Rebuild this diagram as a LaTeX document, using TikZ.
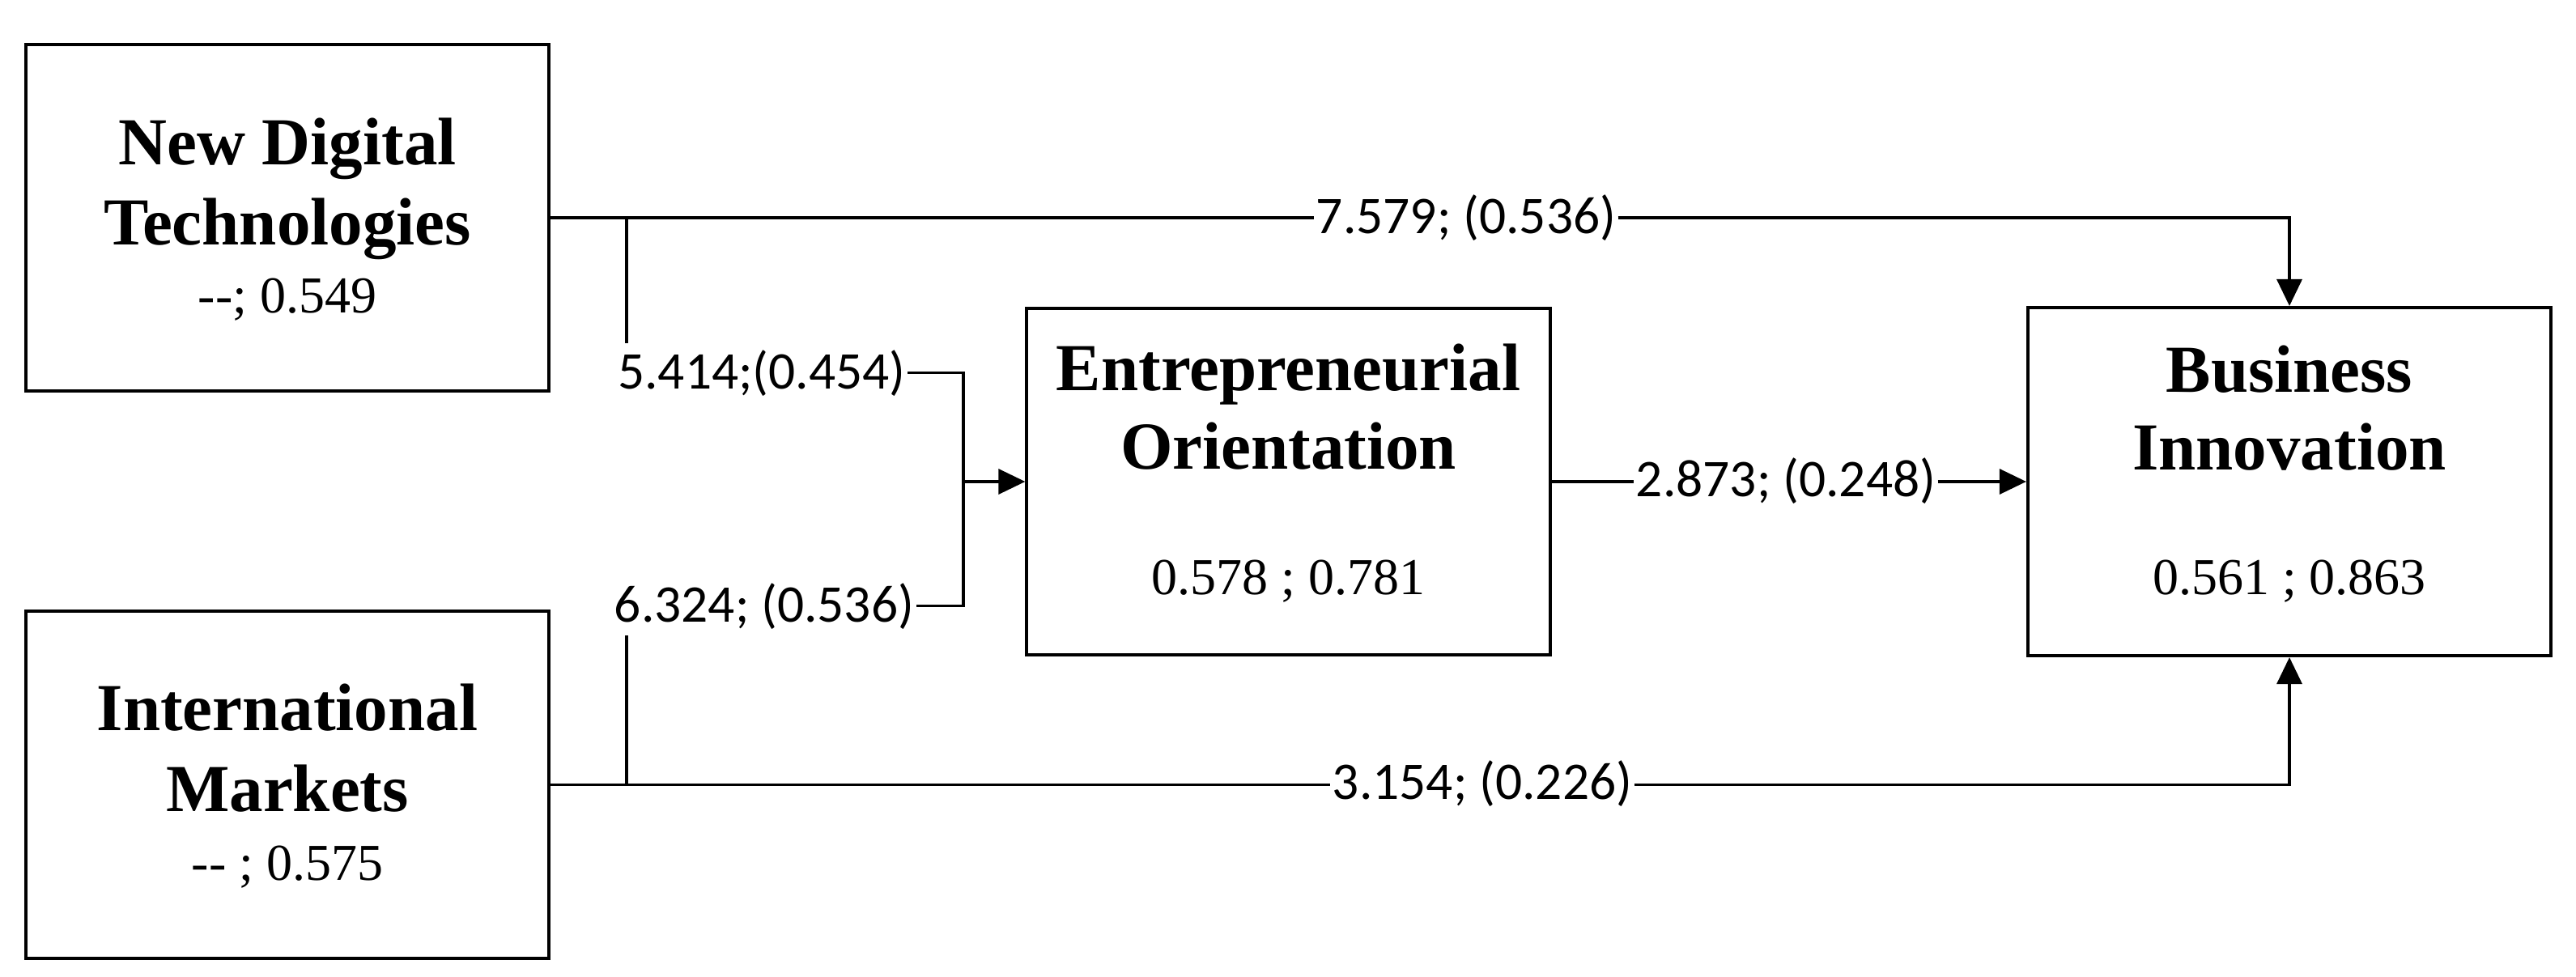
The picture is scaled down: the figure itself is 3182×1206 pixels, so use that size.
\documentclass[tikz,border=0pt]{standalone}
\usepackage{fontspec}
\setmainfont{Liberation Serif}
\newfontfamily\labfont{Carlito}
\usetikzlibrary{arrows.meta,calc}
\tikzset{
  box/.style={draw, line width=1.1pt, minimum width=6.46cm, minimum height=4.28cm, inner sep=0pt},
  ttl/.style={font=\fontsize{23.6}{28}\selectfont\bfseries, anchor=base, inner sep=0pt},
  val/.style={font=\fontsize{18.2}{22}\selectfont, anchor=base, inner sep=0pt},
  lab/.style={font=\labfont\fontsize{18.6}{22}\selectfont, anchor=base, inner xsep=0.5pt, inner ysep=2pt},
  conn/.style={line width=0.95pt},
  arr/.style={-{Triangle[length=3.3mm,width=3.1mm]}}
}
\begin{document}
\begin{tikzpicture}[x={(0.01cm,0)}, y={(0,-0.01cm)}]
\useasboundingbox (0,0) rectangle (3182,1206);
% boxes
\node[box] (NDT) at (355,269) {};
\node[box] (IM) at (355,969.5) {};
\node[box] (EO) at (1591.5,595) {};
\node[box, minimum height=4.30cm] (BI) at (2828,595) {};
% box texts
\node[ttl] (ndt1) at (355,203) {New Digital};
\node[ttl] (ndt2) at (355,302) {Technologies};
\node[val] (ndt3) at (355,386) {-{}-; 0.549};
\node[ttl] (im1) at (355,902) {International};
\node[ttl] (im2) at (355,1002) {Markets};
\node[val] (im3) at (355,1087) {-{}- ; 0.575};
\node[ttl] (eo1) at (1591.5,482) {Entrepreneurial};
\node[ttl] (eo2) at (1591.5,579) {Orientation};
\node[val] (eo3) at (1591.5,734) {0.578 ; 0.781};
\node[ttl] (bi1) at (2828,484) {Business};
\node[ttl] (bi2) at (2828,580) {Innovation};
\node[val] (bi3) at (2828,734) {0.561 ; 0.863};
% labels
\node[lab] (l7) at (1811,288) {7.579; (0.536)};
\node[lab] (l5) at (941,480) {5.414;(0.454)};
\node[lab] (l6) at (944,768) {6.324; (0.536)};
\node[lab] (l3) at (1831,987) {3.154; (0.226)};
\node[lab] (l2) at (2206,613) {2.873; (0.248)};
% helper coordinates
\coordinate (j1) at (774,269);
\coordinate (j2) at (774,969.5);
\coordinate (m1) at (1190,595);
% connectors
\draw[conn] (NDT.east) -- (NDT.east -| l7.west);
\draw[conn,arr] (l7.east |- NDT.east) -| (BI.north);
\draw[conn] (j1) -- (j1 |- l5.north);
\draw[conn] (l5.east) -| (m1) |- (l6.east);
\draw[conn,arr] (m1) -- (EO.west);
\draw[conn] (j2) -- (j2 |- l6.south);
\draw[conn] (IM.east) -- (IM.east -| l3.west);
\draw[conn,arr] (l3.east |- IM.east) -| (BI.south);
\draw[conn] (EO.east) -- (EO.east -| l2.west);
\draw[conn,arr] (l2.east |- EO.east) -- (BI.west);
\end{tikzpicture}
\end{document}
